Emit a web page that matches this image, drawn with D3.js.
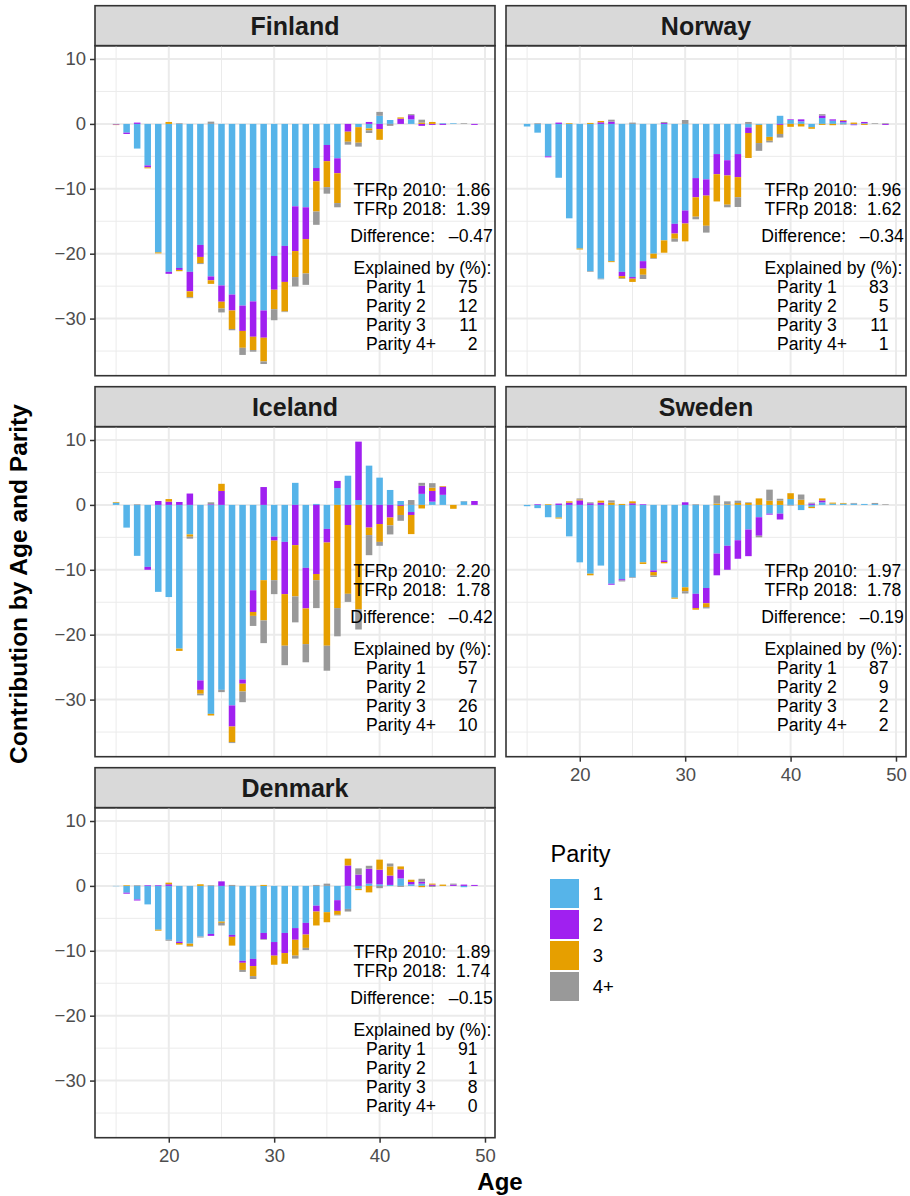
<!DOCTYPE html>
<html lang="en">
<head>
<meta charset="utf-8">
<title>Contribution by Age and Parity</title>
<script src="https://d3js.org/d3.v7.min.js"></script>
<style>
  body { margin: 0; background: #ffffff; }
  svg text { font-family: "Liberation Sans", Arial, Helvetica, sans-serif; }
</style>
</head>
<body>
<svg id="chart" width="910" height="1196"></svg>
<script>
// ---- data ----
var ages = [15, 16, 17, 18, 19, 20, 21, 22, 23, 24, 25, 26, 27, 28, 29, 30, 31, 32,
            33, 34, 35, 36, 37, 38, 39, 40, 41, 42, 43, 44, 45, 46, 47, 48, 49];
var parities = ["1", "2", "3", "4+"];
var parityColors = ["#56B4E9", "#A020F0", "#E69F00", "#999999"];
var countries = ["Finland", "Norway", "Iceland", "Sweden", "Denmark"];

var finland1 = [-0.05, -1.35, -3.8, -6.4, -19.8, -22.8, -22.2, -22.8, -18.65, -23.5, -24.9, -26.3, -28.0, -27.35, -28.75, -20.35, -18.8, -12.7, -12.85, -6.8, -3.25, -5.3, 0, -0.5, -0.7, 1.25, 0.6, 0, 0.7, 0, 0, 0.1, 0.1, 0, 0];
var finland2 = [-0.08, -0.2, 0.2, -0.3, 0, -0.3, -0.3, -3.0, -1.85, -0.6, -2.5, -2.45, -3.9, -5.45, -4.2, -5.2, -5.55, -6.9, -4.9, -2.05, -2.5, -2.3, -1.2, 0, 0.3, -0.8, 0, 0.8, 0.65, -0.3, -0.15, -0.15, 0, 0, -0.15];
var finland3 = [-0.05, 0, 0, -0.15, -0.15, 0.3, -0.2, -0.9, -0.95, -0.55, -1.05, -2.85, -2.6, -2.05, -3.65, -3.0, -4.55, -4.0, -5.3, -4.65, -4.0, -4.6, -1.55, -2.4, -0.3, -1.65, 0, 0.2, 0, 0.2, 0.3, 0, 0, 0, 0];
var finland4 = [0, 0, 0, 0, 0, 0, 0.1, -0.15, -0.15, 0.35, -0.6, -0.2, -1.1, -0.25, -0.4, -1.7, -0.1, -1.45, -1.75, -2.05, -1.0, -0.65, -0.45, -0.6, -0.4, 0.6, -0.3, 0, 0.15, 0.45, 0, 0, 0, 0.1, 0];

var norway1 = [-0.4, -1.35, -5.0, -8.3, -14.55, -19.2, -22.7, -23.85, -21.15, -22.8, -23.6, -21.15, -20.0, -17.95, -15.4, -13.35, -8.35, -8.55, -4.65, -5.6, -4.65, -0.55, -0.15, -2.0, 1.25, 0.6, 0.4, -0.5, 0.9, 0.5, 0.25, -0.1, 0.1, 0, 0];
var norway2 = [0, 0, -0.15, 0.2, 0, 0, 0, 0.25, 0.35, -0.65, -0.25, -1.15, 0, 0.15, -1.5, -2.0, -2.95, -2.5, -3.1, -2.35, -3.55, -0.85, 0, 0, -0.15, 0.1, 0.3, 0, 0.4, 0.2, 0.25, -0.1, 0.2, 0, -0.15];
var norway3 = [0, 0, 0, 0, 0.1, -0.15, 0.15, 0.2, -0.15, -0.35, -0.5, -0.95, -0.7, -1.9, -0.8, -2.75, -3.0, -4.65, -4.2, -4.5, -3.1, -3.85, -2.8, -0.6, -1.4, -0.45, -0.4, -0.25, -0.15, -0.2, 0.1, 0.2, -0.15, 0, 0];
var norway4 = [0, 0.1, 0, 0, 0, 0, -0.1, -0.1, 0.3, -0.1, 0.2, -0.65, -0.1, 0.15, -0.45, 0.6, -0.4, -1.05, 0, -0.4, -1.5, 0.3, -1.2, -0.25, -0.55, 0, 0, 0, 0.2, 0, -0.1, 0, 0, 0.1, 0.1];

var iceland1 = [0.35, -3.5, -7.85, -9.55, -13.4, -14.2, -22.15, -4.55, -27.05, -32.2, -28.5, -30.9, -26.9, -13.15, -11.6, -4.9, -5.7, 3.4, -9.7, 0.15, -3.7, 2.6, 4.5, 0.75, 6.05, 4.2, 2.3, 0.6, -1.1, 1.7, 0.5, 1.55, 0, 0.55, 0];
var iceland2 = [0, 0, 0, -0.45, 0.6, 0.5, 0.45, 1.75, -1.45, 0.1, 2.15, -3.25, -0.65, -3.35, 2.75, -0.6, -8.05, -6.2, -6.25, -10.65, -2.1, 1.1, -3.1, 9.0, -3.5, -2.95, -1.95, -0.15, -0.45, 1.25, 1.65, 1.25, 0, 0, 0.6];
var iceland3 = [0.1, 0, 0, 0, 0, 0.4, -0.35, -0.35, -0.6, -0.25, 1.1, -2.4, -1.2, -0.6, -6.2, -6.1, -7.95, -7.9, -5.5, -0.95, -15.9, -15.9, -10.6, -16.1, -1.15, -2.75, -1.2, -1.4, -2.95, -0.55, 0.5, 0.1, -0.6, 0, 0];
var iceland4 = [0, 0, 0.1, 0, 0, 0, 0, -0.3, -0.25, 0.3, -0.35, -0.15, -1.65, -1.55, -3.5, -2.15, -3.0, -4.0, -2.8, -4.3, -3.85, -4.35, -1.25, -3.1, -3.1, -0.6, -1.4, -0.9, 0.75, 0.45, 0.7, 0, 0, 0.05, 0];

var sweden1 = [-0.2, -0.5, -1.9, -1.95, -4.85, -8.85, -10.6, -9.35, -12.15, -11.45, -11.15, -8.85, -10.1, -8.55, -14.3, -12.7, -13.7, -12.8, -7.5, -6.3, -5.45, -3.8, -1.9, -1.35, -1.35, 0.9, -0.8, -0.3, 0.4, 0.2, 0.2, 0.2, 0.15, 0.15, 0];
var sweden2 = [0, 0.1, 0, 0.2, 0.35, 0.7, 0.25, 0.35, -0.15, -0.2, 0.25, 0.1, -0.25, -0.25, 0, 0.4, -2.2, -2.35, -3.35, -3.7, -2.85, -4.1, -2.85, -0.15, -0.9, 0, 0, 0.2, 0.3, 0, 0, 0, 0, 0, 0];
var sweden3 = [0, 0, 0.1, -0.15, 0.2, 0.15, -0.25, 0.3, 0.35, 0.15, 0.3, -0.25, -0.55, -0.2, -0.15, -0.6, -0.25, -0.6, 0.2, 0.1, 0.3, 0.3, 1.0, 0.65, 0.65, 0.9, 0.8, -0.2, 0.3, 0.15, 0.1, 0, 0, 0, 0];
var sweden4 = [0, 0, 0, 0, 0, 0.15, 0.15, 0, 0.35, -0.15, -0.1, 0, -0.2, 0, 0, -0.35, 0.1, -0.2, 1.25, 0.45, 0.35, 0.1, -0.25, 1.7, 0.3, -0.1, 0.8, 0.15, 0, 0, 0, 0.1, 0, 0.15, 0.1];

var denmark1 = [-0.05, -1.05, -2.1, -2.85, -6.75, -8.3, -8.6, -8.9, -7.8, -7.4, -5.5, -7.55, -11.55, -11.25, -7.25, -8.65, -7.25, -6.5, -5.7, -3.05, -4.05, -2.2, -3.55, -0.45, 0.35, 0.25, 0.15, 1.15, 0.25, 0.35, 0, 0, 0, -0.2, 0];
var denmark2 = [0, -0.15, -0.15, 0.1, 0.1, 0.25, -0.2, 0, 0, -0.3, 0.7, -0.3, -0.3, -1.1, -0.95, -2.1, -3.1, -1.8, -1.8, -0.9, 0, -1.65, 3.15, 1.75, 2.3, 2.25, 1.45, 1.4, 0.35, 0.3, 0.2, 0, 0.2, 0.2, 0.15];
var denmark3 = [0, 0.1, 0, 0, -0.15, 0.25, -0.25, -0.35, 0.25, 0, -0.2, -1.35, -1.1, -1.55, 0.15, -1.4, -1.65, -2.45, -2.05, -2.15, -1.55, -0.6, 1.05, -0.2, -1.0, 1.55, 1.4, 0.45, 0.35, -0.2, 0.15, 0.2, 0, 0, 0];
var denmark4 = [0, 0, 0.1, 0, 0, -0.15, 0, -0.1, -0.15, 0.1, -0.4, 0.15, -0.3, -0.45, -0.1, 0, 0, -0.45, -0.35, 0.15, 0.35, -0.1, -0.4, 0.95, 0.45, -0.35, 0.45, -0.15, 0, 0.45, -0.15, 0, 0.15, 0, 0];

var tfr2010 = ["1.86", "1.96", "2.20", "1.97", "1.89"];
var tfr2018 = ["1.39", "1.62", "1.78", "1.78", "1.74"];
var tfrDiff = ["\u20130.47", "\u20130.34", "\u20130.42", "\u20130.19", "\u20130.15"];
var explained1 = [75, 83, 57, 87, 91];
var explained2 = [12, 5, 7, 9, 1];
var explained3 = [11, 11, 26, 2, 8];
var explained4 = [2, 1, 10, 2, 0];

var xTicks = [20, 30, 40, 50];
var xMinor = [15, 25, 35, 45];
var yTicks = [10, 0, -10, -20, -30];
var yMinor = [5, -5, -15, -25, -35];

// ---- layout ----
var series = {
    Finland: [finland1, finland2, finland3, finland4],
    Norway: [norway1, norway2, norway3, norway4],
    Iceland: [iceland1, iceland2, iceland3, iceland4],
    Sweden: [sweden1, sweden2, sweden3, sweden4],
    Denmark: [denmark1, denmark2, denmark3, denmark4]
};
var layout = [{col: 0, row: 0}, {col: 1, row: 0}, {col: 0, row: 1}, {col: 1, row: 1}, {col: 0, row: 2}];
var lastInCol = {Sweden: true, Denmark: true};

var panelW = 400, panelH = 330, stripH = 40;
var keys = ["p1", "p2", "p3", "p4"];

var svg = d3.select("svg#chart");
svg.append("rect").attr("width", 910).attr("height", 1196).attr("fill", "#ffffff");

var x = d3.scaleLinear().domain([13.0, 50.95]).range([0, panelW]);
var y = d3.scaleLinear().domain([-38.8, 12.05]).range([panelH, 0]);
var barW = x(13.62) - x(13.0);

function styleAxis(g) {
    g.attr("font-family", null).attr("font-size", null);
    g.select(".domain").remove();
    g.selectAll(".tick line").attr("stroke", "#333333").attr("stroke-width", 1.5);
    g.selectAll(".tick text").attr("fill", "#4D4D4D").style("font-size", "18.5px");
}

countries.forEach(function(country, i) {
    var left = 95 + layout[i].col * 411;
    var top = 5.7 + layout[i].row * 381;
    var g = svg.append("g").attr("transform", "translate(" + left + "," + top + ")");

    // strip
    g.append("rect").attr("width", panelW).attr("height", stripH)
        .attr("fill", "#D9D9D9").attr("stroke", "#333333").attr("stroke-width", 1.6);
    g.append("text").attr("x", panelW / 2).attr("y", stripH / 2).attr("dy", "0.36em")
        .attr("text-anchor", "middle").attr("fill", "#1A1A1A")
        .style("font-size", "25px").style("font-weight", "bold").text(country);

    var p = g.append("g").attr("transform", "translate(0," + stripH + ")");

    // grid
    p.selectAll("line.xminor").data(xMinor).enter().append("line")
        .attr("x1", d => x(d)).attr("x2", d => x(d)).attr("y1", 0).attr("y2", panelH)
        .attr("stroke", "#EBEBEB").attr("stroke-width", 1);
    p.selectAll("line.yminor").data(yMinor).enter().append("line")
        .attr("y1", d => y(d)).attr("y2", d => y(d)).attr("x1", 0).attr("x2", panelW)
        .attr("stroke", "#EBEBEB").attr("stroke-width", 1);
    p.selectAll("line.xmajor").data(xTicks).enter().append("line")
        .attr("x1", d => x(d)).attr("x2", d => x(d)).attr("y1", 0).attr("y2", panelH)
        .attr("stroke", "#EBEBEB").attr("stroke-width", 2);
    p.selectAll("line.ymajor").data(yTicks).enter().append("line")
        .attr("y1", d => y(d)).attr("y2", d => y(d)).attr("x1", 0).attr("x2", panelW)
        .attr("stroke", "#EBEBEB").attr("stroke-width", 2);

    // stacked bars (positives up, negatives down, parity 1 nearest zero)
    var s = series[country];
    var rows = ages.map(function(a, k) {
        return {age: a, p1: s[0][k], p2: s[1][k], p3: s[2][k], p4: s[3][k]};
    });
    var stacked = d3.stack().keys(keys).offset(d3.stackOffsetDiverging)(rows);

    p.selectAll("g.layer").data(stacked).enter().append("g").attr("class", "layer")
        .attr("fill", (d, j) => parityColors[j])
        .selectAll("rect").data(d => d).enter().append("rect")
        .attr("x", d => x(d.data.age) - barW / 2)
        .attr("width", barW)
        .attr("y", d => y(Math.max(d[0], d[1])))
        .attr("height", d => Math.abs(y(d[0]) - y(d[1])));

    // text block
    var lines = [
        {t: "TFRp 2010:", ax: 37.53, ay: -10.06, anchor: "start"},
        {t: tfr2010[i], ax: 50.5, ay: -10.06, anchor: "end"},
        {t: "TFRp 2018:", ax: 37.53, ay: -13.1, anchor: "start"},
        {t: tfr2018[i], ax: 50.5, ay: -13.1, anchor: "end"},
        {t: "Difference:", ax: 37.22, ay: -17.2, anchor: "start"},
        {t: tfrDiff[i], ax: 50.75, ay: -17.2, anchor: "end"},
        {t: "Explained by (%):", ax: 37.53, ay: -22.1, anchor: "start"},
        {t: "Parity 1", ax: 38.72, ay: -25.05, anchor: "start"},
        {t: String(explained1[i]), ax: 49.3, ay: -25.05, anchor: "end"},
        {t: "Parity 2", ax: 38.72, ay: -28.0, anchor: "start"},
        {t: String(explained2[i]), ax: 49.3, ay: -28.0, anchor: "end"},
        {t: "Parity 3", ax: 38.72, ay: -30.95, anchor: "start"},
        {t: String(explained3[i]), ax: 49.3, ay: -30.95, anchor: "end"},
        {t: "Parity 4+", ax: 38.72, ay: -33.9, anchor: "start"},
        {t: String(explained4[i]), ax: 49.3, ay: -33.9, anchor: "end"}
    ];
    p.selectAll("text.note").data(lines).enter().append("text").attr("class", "note")
        .attr("x", d => x(d.ax)).attr("y", d => y(d.ay)).attr("dy", "0.36em")
        .attr("text-anchor", d => d.anchor).attr("fill", "#000000")
        .style("font-size", "17.6px").text(d => d.t);

    // border
    p.append("rect").attr("width", panelW).attr("height", panelH)
        .attr("fill", "none").attr("stroke", "#333333").attr("stroke-width", 1.6);

    // axes
    if (layout[i].col === 0) {
        p.append("g").call(d3.axisLeft(y).tickValues(yTicks).tickSize(5).tickPadding(4)).call(styleAxis);
    }
    if (lastInCol[country]) {
        p.append("g").attr("transform", "translate(0," + panelH + ")")
            .call(d3.axisBottom(x).tickValues(xTicks).tickSize(5).tickPadding(6)).call(styleAxis);
    }
});

// axis titles
svg.append("text").attr("x", 500).attr("y", 1190).attr("text-anchor", "middle")
    .style("font-size", "24px").style("font-weight", "bold").text("Age");
svg.append("text").attr("transform", "translate(27,584) rotate(-90)").attr("text-anchor", "middle")
    .style("font-size", "24.5px").style("font-weight", "bold").text("Contribution by Age and Parity");

// legend
var legend = svg.append("g").attr("transform", "translate(550,879)");
legend.append("text").attr("x", 0.5).attr("y", -17.3).style("font-size", "23.5px").text("Parity");
legend.selectAll("rect").data(parities).enter().append("rect")
    .attr("x", 0).attr("y", (d, i) => i * 31).attr("width", 29).attr("height", 29)
    .attr("fill", (d, i) => parityColors[i]);
legend.selectAll("text.lab").data(parities).enter().append("text").attr("class", "lab")
    .attr("x", 42.7).attr("y", (d, i) => i * 31 + 14.5).attr("dy", "0.36em")
    .style("font-size", "18.5px").text(d => d);
</script>
</body>
</html>
